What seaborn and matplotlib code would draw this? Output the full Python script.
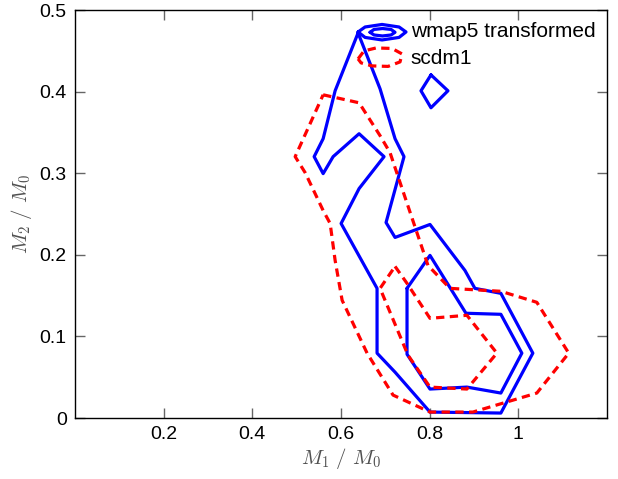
import numpy as np
import pandas as pd
import matplotlib
matplotlib.use("Agg")
import matplotlib.pyplot as plt
import seaborn as sns

# ---- data ----
wmap_outer_x = [0.6385, 0.5867, 0.5597, 0.5394, 0.5597, 0.5822, 0.6408, 0.6971, 0.6408, 0.6002,
                0.6813, 0.6813, 0.7219, 0.8007, 0.9606, 1.0327, 0.9606, 0.9020, 0.8795, 0.8007,
                0.7219, 0.7016, 0.7421, 0.7219, 0.6881]
wmap_outer_y = [0.4719, 0.4010, 0.3423, 0.3203, 0.2995, 0.3203, 0.3484, 0.3203, 0.2812, 0.2384,
                0.1589, 0.0795, 0.0562, 0.0073, 0.0061, 0.0795, 0.1528, 0.1589, 0.1809, 0.2372,
                0.2213, 0.2396, 0.3203, 0.3423, 0.4034]
wmap_inner_x = [0.7489, 0.8007, 0.8818, 0.9606, 1.0079, 0.9606, 0.8840, 0.8007, 0.7489]
wmap_inner_y = [0.1589, 0.1993, 0.1284, 0.1271, 0.0795, 0.0306, 0.0379, 0.0355, 0.0782]
wmap_island_x = [0.8029, 0.8412, 0.8029, 0.7804]
wmap_island_y = [0.4205, 0.4010, 0.3802, 0.4010]
wmap_key_outer_x = [0.6385, 0.6543, 0.6926, 0.7309, 0.7466, 0.7309, 0.6926, 0.6543]
wmap_key_outer_y = [0.4731, 0.4792, 0.4823, 0.4792, 0.4731, 0.4664, 0.4633, 0.4664]
wmap_key_inner_x = [0.6655, 0.6745, 0.6937, 0.7128, 0.7218, 0.7128, 0.6937, 0.6745]
wmap_key_inner_y = [0.4727, 0.4762, 0.4773, 0.4762, 0.4727, 0.4694, 0.4682, 0.4694]

scdm_outer_x = [0.5597, 0.6408, 0.6881, 0.7106, 0.7219, 0.7962, 0.8457, 0.9606, 1.0417, 1.1137,
                1.0417, 0.8975, 0.8007, 0.7174, 0.6588, 0.6025, 0.5867, 0.5755, 0.5597, 0.5191,
                0.4966]
scdm_outer_y = [0.3961, 0.3863, 0.3460, 0.3252, 0.3068, 0.1870, 0.1589, 0.1553, 0.1418, 0.0795,
                0.0306, 0.0073, 0.0073, 0.0281, 0.0795, 0.1443, 0.1932, 0.2384, 0.2543, 0.3007,
                0.3203]
scdm_inner_x = [0.7219, 0.7489, 0.8007, 0.8840, 0.9516, 0.8840, 0.8007, 0.7511, 0.6881]
scdm_inner_y = [0.1858, 0.1650, 0.1222, 0.1259, 0.0795, 0.0355, 0.0379, 0.0770, 0.1589]
scdm_key_x = [0.6385, 0.6520, 0.6791, 0.7151, 0.7376, 0.7331, 0.7061, 0.6700, 0.6453]
scdm_key_y = [0.4401, 0.4499, 0.4535, 0.4529, 0.4462, 0.4364, 0.4309, 0.4315, 0.4352]

labels = ["wmap5 transformed", "scdm1"]
xticks = [0.2, 0.4, 0.6, 0.8, 1.0]
xticklabels = ["0.2", "0.4", "0.6", "0.8", "1"]
yticks = [0, 0.1, 0.2, 0.3, 0.4, 0.5]
yticklabels = ["0", "0.1", "0.2", "0.3", "0.4", "0.5"]

sns.set_theme(style="ticks")
plt.rcParams['font.family'] = ['Liberation Sans', 'DejaVu Sans']
plt.rcParams['mathtext.fontset'] = 'cm'

fig = plt.figure(figsize=(6.18, 4.79), dpi=100)
ax = fig.add_axes([0.1214, 0.1273, 0.8608, 0.8518])


def closed(xs, ys):
    xs = list(xs) + [xs[0]]
    ys = list(ys) + [ys[0]]
    return pd.DataFrame({"x": xs, "y": ys, "order": np.arange(len(xs))})


blue_sets = [(wmap_outer_x, wmap_outer_y), (wmap_inner_x, wmap_inner_y),
             (wmap_island_x, wmap_island_y), (wmap_key_outer_x, wmap_key_outer_y),
             (wmap_key_inner_x, wmap_key_inner_y)]
red_sets = [(scdm_outer_x, scdm_outer_y), (scdm_inner_x, scdm_inner_y),
            (scdm_key_x, scdm_key_y)]

for xs, ys in blue_sets:
    sns.lineplot(data=closed(xs, ys), x="x", y="y", sort=False, estimator=None,
                 color=(0, 0, 1), linewidth=2.3, ax=ax)
for xs, ys in red_sets:
    line = sns.lineplot(data=closed(xs, ys), x="x", y="y", sort=False, estimator=None,
                        color=(1, 0, 0), linewidth=2.3, ax=ax)
    line.lines[-1].set_dashes((2.6, 1.7))

ax.text(0.757, 0.4731, labels[0], fontsize=15, va="center", ha="left", color="black")
ax.text(0.757, 0.4400, labels[1], fontsize=15, va="center", ha="left", color="black")

ax.set_xlim(0, 1.2)
ax.set_ylim(0, 0.5)
ax.set_xticks(xticks)
ax.set_xticklabels(xticklabels)
ax.set_yticks(yticks)
ax.set_yticklabels(yticklabels)
ax.tick_params(direction="in", length=7, width=1, color="#666666", top=True, right=True,
               labelsize=14, labelcolor="black", pad=6)
for s in ax.spines.values():
    s.set_visible(True)
    s.set_color("black")
    s.set_linewidth(1.0)

ax.set_xlabel(r"$M_1\ /\ M_0$", fontsize=15, color="#505050", labelpad=2)
ax.set_ylabel(r"$M_2\ /\ M_0$", fontsize=15, color="#505050", labelpad=4)

fig.savefig("out.png", dpi=100)
